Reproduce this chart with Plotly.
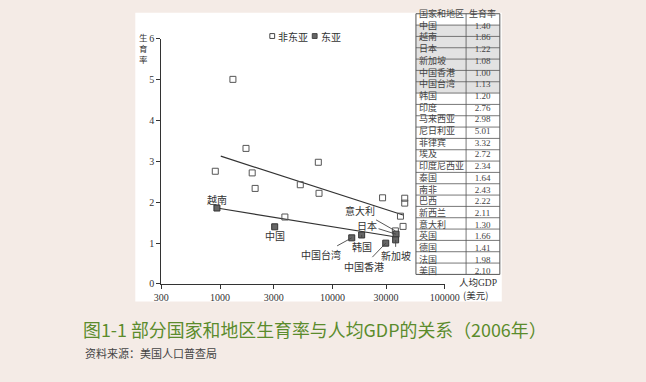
import math
import plotly.graph_objects as go

# ---------------- data ----------------
ea_names = ["越南", "中国", "中国台湾", "韩国", "中国香港", "日本", "新加坡"]
ea_gdp = [937, 3060, 14840, 18180, 29780, 36780, 36480]
ea_fert = [1.86, 1.40, 1.13, 1.20, 1.00, 1.22, 1.08]

nea_names = ["印度", "尼日利亚", "菲律宾", "埃及", "印度尼西亚", "泰国", "南非",
             "马来西亚", "巴西", "新西兰", "意大利", "英国", "德国", "法国", "美国"]
nea_gdp = [906, 1300, 1700, 1930, 2050, 3770, 5170, 7480, 7590, 27900, 36270,
           40270, 42460, 43930, 43930]
nea_fert = [2.76, 5.01, 3.32, 2.72, 2.34, 1.64, 2.43, 2.98, 2.22, 2.11, 1.30,
            1.66, 1.41, 1.98, 2.10]

trend_nea_gdp = [1014, 42460]
trend_nea_fert = [3.13, 1.69]
trend_ea_gdp = [937, 36780]
trend_ea_fert = [1.86, 1.15]

table_names = ["中国", "越南", "日本", "新加坡", "中国香港", "中国台湾", "韩国", "印度",
               "马来西亚", "尼日利亚", "菲律宾", "埃及", "印度尼西亚", "泰国", "南非",
               "巴西", "新西兰", "意大利", "英国", "德国", "法国", "美国"]
table_rates = [1.40, 1.86, 1.22, 1.08, 1.00, 1.13, 1.20, 2.76, 2.98, 5.01, 3.32,
               2.72, 2.34, 1.64, 2.43, 2.22, 2.11, 1.30, 1.66, 1.41, 1.98, 2.10]
table_header = ["国家和地区", "生育率"]
shaded_rows = 6

x_ticks = [300, 1000, 3000, 10000, 30000, 100000]
x_ticktext = ["300", "1000", "3000", "10000", "30000", "100000"]
y_ticks = [0, 1, 2, 3, 4, 5, 6]

# label offsets (text position relative to its point, pixels)
label_specs = [
    # name, series, dx, dy, leader line
    ("越南", "ea", 0, -9, False),
    ("中国", "ea", 0, 9, False),
    ("中国台湾", "ea", -31, 17, True),
    ("韩国", "ea", 0, 12, True),
    ("中国香港", "ea", -22, 23, True),
    ("新加坡", "ea", 0, 16, True),
    ("日本", "ea", -29, -9, True),
    ("意大利", "nea", -35, -20, True),
]

# ---------------- figure ----------------
W, H = 646, 382
SERIF = "Liberation Serif, Noto Sans CJK SC, serif"
CJK = "Noto Sans CJK SC, sans-serif"
TXT = "#333333"


def px_x(p):
    return p / W


def px_y(p):
    return 1 - p / H


fig = go.Figure()

fig.add_trace(go.Scatter(
    x=trend_nea_gdp, y=trend_nea_fert, mode="lines",
    line=dict(color="#333333", width=1.2), showlegend=False, hoverinfo="skip"))
fig.add_trace(go.Scatter(
    x=trend_ea_gdp, y=trend_ea_fert, mode="lines",
    line=dict(color="#333333", width=1.2), showlegend=False, hoverinfo="skip"))

fig.add_trace(go.Scatter(
    x=nea_gdp, y=nea_fert, mode="markers", name="非东亚", text=nea_names,
    showlegend=False,
    marker=dict(symbol="square-open", size=6, color="#555555", line=dict(width=1))))
fig.add_trace(go.Scatter(
    x=ea_gdp, y=ea_fert, mode="markers", name="东亚", text=ea_names,
    showlegend=False,
    marker=dict(symbol="square", size=6, color="#666666",
                line=dict(color="#333333", width=1))))

shapes = []
ann = []

# white panel
shapes.append(dict(type="rect", xref="paper", yref="paper",
                   x0=px_x(132), x1=px_x(512), y0=px_y(305), y1=px_y(7),
                   fillcolor="white", line=dict(width=0), layer="below"))

# point labels with leader lines
for name, series, dx, dy, leader in label_specs:
    if series == "ea":
        i = ea_names.index(name)
        gx, fy = ea_gdp[i], ea_fert[i]
    else:
        i = nea_names.index(name)
        gx, fy = nea_gdp[i], nea_fert[i]
    a = dict(x=math.log10(gx), y=fy, xref="x", yref="y", text=name,
             font=dict(family=CJK, size=10, color=TXT))
    if leader:
        a.update(showarrow=True, ax=dx, ay=dy, arrowhead=0, arrowwidth=0.9,
                 arrowcolor="#444444", standoff=0)
    else:
        a.update(showarrow=False, xshift=dx, yshift=-dy)
    ann.append(a)

# table (drawn from the data lists)
T_LEFT, T_MID, T_RIGHT, T_TOP, ROW_H = 423, 475, 510, 8, 11.7
TFONT = 9  # line spacing 1.3 * 9 = 11.7 px = ROW_H
n_rows = len(table_names) + 1
T_BOT = T_TOP + n_rows * ROW_H
for r in range(1, shaded_rows + 1):
    shapes.append(dict(type="rect", xref="paper", yref="paper",
                       x0=px_x(T_LEFT), x1=px_x(T_RIGHT),
                       y0=px_y(T_TOP + (r + 1) * ROW_H), y1=px_y(T_TOP + r * ROW_H),
                       fillcolor="#e2e2e2", line=dict(width=0)))
shapes.append(dict(type="rect", xref="paper", yref="paper",
                   x0=px_x(T_LEFT), x1=px_x(T_RIGHT), y0=px_y(T_BOT), y1=px_y(T_TOP),
                   line=dict(color="#555555", width=1)))
for r in range(1, n_rows):
    yy = px_y(T_TOP + r * ROW_H)
    shapes.append(dict(type="line", xref="paper", yref="paper",
                       x0=px_x(T_LEFT), x1=px_x(T_RIGHT), y0=yy, y1=yy,
                       line=dict(color="#555555", width=0.8)))
shapes.append(dict(type="line", xref="paper", yref="paper",
                   x0=px_x(T_MID), x1=px_x(T_MID), y0=px_y(T_BOT), y1=px_y(T_TOP),
                   line=dict(color="#555555", width=0.8)))

col1 = "<br>".join([table_header[0]] + table_names)
col2 = "<br>".join([table_header[1]] + [f"{v:.2f}" for v in table_rates])
ymid = px_y((T_TOP + T_BOT) / 2)
ann.append(dict(xref="paper", yref="paper", x=px_x(T_LEFT + 1), y=ymid, text=col1,
                showarrow=False, xanchor="left", yanchor="middle", align="left",
                yshift=2, font=dict(family=CJK, size=TFONT, color="#444444")))
ann.append(dict(xref="paper", yref="paper", x=px_x((T_MID + T_RIGHT) / 2), y=ymid,
                text=col2, showarrow=False, xanchor="center", yanchor="middle",
                align="center", yshift=2,
                font=dict(family=SERIF, size=TFONT, color="#444444")))

# legend (compact, drawn as shapes + texts)
legend_items = [("非东亚", "white", 274), ("东亚", "#666666", 318)]
for text, fill, lx in legend_items:
    shapes.append(dict(type="rect", xref="paper", yref="paper",
                       x0=px_x(lx - 2.5), x1=px_x(lx + 2.5),
                       y0=px_y(31 + 2.5), y1=px_y(31 - 2.5),
                       fillcolor=fill, line=dict(color="#444444", width=1)))
    ann.append(dict(xref="paper", yref="paper", x=px_x(lx + 4), y=px_y(31), text=text,
                    showarrow=False, xanchor="left", yanchor="middle",
                    font=dict(family=CJK, size=10, color=TXT)))

# axis titles & captions
ann.append(dict(xref="paper", yref="paper", x=px_x(140), y=px_y(43),
                text="生<br>育<br>率", showarrow=False,
                font=dict(family=CJK, size=8.5, color=TXT),
                xanchor="center", yanchor="middle"))
ann.append(dict(xref="paper", yref="paper", x=px_x(487), y=px_y(285), text="人均GDP",
                showarrow=False, font=dict(family=SERIF, size=9.5, color=TXT),
                xanchor="center", yanchor="middle"))
ann.append(dict(xref="paper", yref="paper", x=px_x(470), y=px_y(298.5), text="(美元)",
                showarrow=False, font=dict(family=CJK, size=9.5, color=TXT),
                xanchor="left", yanchor="middle"))
ann.append(dict(xref="paper", yref="paper", x=px_x(76), y=px_y(333),
                text="图1-1 部分国家和地区生育率与人均GDP的关系（2006年）",
                showarrow=False, font=dict(family=CJK, size=17.9, color="#5b8b2c"),
                xanchor="left", yanchor="middle"))
ann.append(dict(xref="paper", yref="paper", x=px_x(78), y=px_y(358),
                text="资料来源：美国人口普查局",
                showarrow=False, font=dict(family=CJK, size=11, color="#444444"),
                xanchor="left", yanchor="middle"))

fig.update_layout(
    width=W, height=H, margin=dict(l=0, r=0, t=0, b=0),
    paper_bgcolor="#f4ebe6", plot_bgcolor="rgba(0,0,0,0)",
    font=dict(family=SERIF, size=10, color=TXT),
    annotations=ann, shapes=shapes,
    showlegend=False,
    xaxis=dict(type="log", range=[math.log10(300), 5],
               domain=[px_x(159), px_x(453)],
               tickvals=x_ticks, ticktext=x_ticktext, showgrid=False, zeroline=False,
               showline=True, linecolor="#333333", linewidth=1, ticks="outside",
               ticklen=4, tickcolor="#333333",
               tickfont=dict(family=SERIF, size=10, color=TXT), anchor="y"),
    yaxis=dict(range=[0, 6], domain=[px_y(287), px_y(34)], tickvals=y_ticks,
               showgrid=False, zeroline=False, showline=True, linecolor="#333333",
               linewidth=1, ticks="outside", ticklen=4, tickcolor="#333333",
               tickfont=dict(family=SERIF, size=10, color=TXT), anchor="x"),
)

fig.write_html(
    "out.html",
    config={"displayModeBar": False},
    post_script="document.body.style.margin='0px';document.body.style.overflow='hidden';",
)
